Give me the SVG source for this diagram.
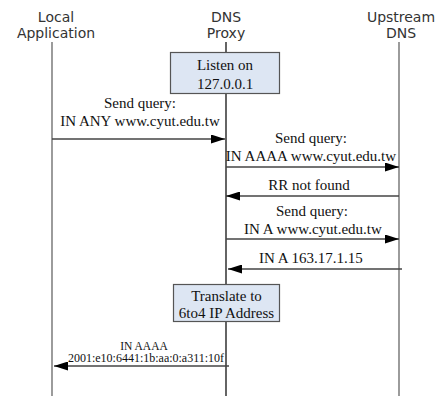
<svg xmlns="http://www.w3.org/2000/svg" width="442" height="396" viewBox="0 0 442 396">
<defs>
<marker id="ah" markerWidth="14" markerHeight="9" refX="14" refY="4.5" orient="auto" markerUnits="userSpaceOnUse">
<path d="M0,0 L14,4.5 L0,9 Z" fill="#000"/>
</marker>
<style>
.hdr{font-family:"DejaVu Sans",sans-serif;font-size:14px;fill:#333;text-anchor:middle}
.lbl{font-family:"Liberation Serif",serif;font-size:15px;fill:#111;text-anchor:middle}
.sm{font-family:"Liberation Serif",serif;font-size:11.5px;fill:#111;text-anchor:middle}
.addr{font-family:"Liberation Serif",serif;font-size:12px;fill:#111;text-anchor:middle}
.life{stroke:#666;stroke-width:1.3;fill:none}
.box{fill:#dde6f3;stroke:#555;stroke-width:1.2}
.msg{stroke:#444;stroke-width:1.3;fill:none;marker-end:url(#ah)}
</style>
</defs>
<rect width="442" height="396" fill="#fff"/>
<g id="local">
<text class="hdr" x="56" y="22">Local</text>
<text class="hdr" x="56" y="38">Application</text>
<line class="life" x1="52" y1="42" x2="52" y2="396"/>
</g>
<g id="proxy">
<text class="hdr" x="226" y="22">DNS</text>
<text class="hdr" x="226" y="38">Proxy</text>
<line class="life" x1="226" y1="42" x2="226" y2="396" style="stroke:#111"/>
</g>
<g id="upstream">
<text class="hdr" x="401" y="22">Upstream</text>
<text class="hdr" x="401" y="38">DNS</text>
<line class="life" x1="399" y1="42" x2="399" y2="396"/>
</g>
<g id="listen">
<rect class="box" x="170.5" y="52.5" width="109" height="41"/>
<text class="lbl" x="225" y="70">Listen on</text>
<text class="lbl" x="225" y="89">127.0.0.1</text>
</g>
<g id="translate">
<rect class="box" x="173.5" y="284.5" width="106" height="37"/>
<text class="lbl" x="226.5" y="301">Translate to</text>
<text class="lbl" x="226.5" y="318">6to4 IP Address</text>
</g>
<g id="connectors">
<line class="msg" x1="52" y1="139" x2="225" y2="139"/>
<line class="msg" x1="226" y1="167" x2="399" y2="167"/>
<line class="msg" x1="399" y1="196" x2="226" y2="196"/>
<line class="msg" x1="226" y1="239" x2="399" y2="239"/>
<line class="msg" x1="402" y1="269" x2="228" y2="269"/>
<line class="msg" x1="229" y1="366" x2="54" y2="366"/>
</g>
<g id="labels">
<text class="lbl" x="140" y="108">Send query:</text>
<text class="lbl" x="140" y="126">IN ANY www.cyut.edu.tw</text>
<text class="lbl" x="311" y="143">Send query:</text>
<text class="lbl" x="311" y="161">IN AAAA www.cyut.edu.tw</text>
<text class="lbl" x="309" y="190">RR not found</text>
<text class="lbl" x="312" y="216">Send query:</text>
<text class="lbl" x="313" y="234">IN A www.cyut.edu.tw</text>
<text class="lbl" x="311" y="263">IN A 163.17.1.15</text>
<text class="sm" x="144" y="350">IN AAAA</text>
<text class="addr" x="146" y="362">2001:e10:6441:1b:aa:0:a311:10f</text>
</g>
</svg>
